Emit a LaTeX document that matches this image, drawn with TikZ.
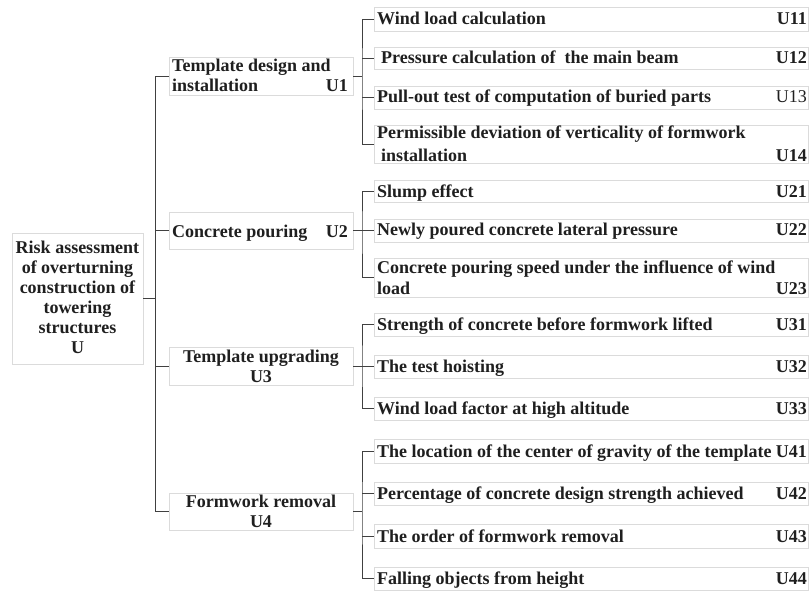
\documentclass[tikz,border=0pt]{standalone}
\usepackage{fontspec}
\setmainfont{Liberation Serif}
\begin{document}
\begin{tikzpicture}[x=1pt,y=-1pt,
  boxline/.style={draw=black!14, line width=0.6pt},
  rootbox/.style={boxline, minimum width=131pt, minimum height=131pt, inner sep=0pt},
  mainbox/.style={boxline, minimum width=184pt, inner sep=0pt},
  leafbox/.style={boxline, minimum width=434pt, inner sep=0pt},
  ltxt/.style={anchor=base west, inner sep=0pt, font=\fontsize{18}{22}\selectfont\bfseries, text=black!88},
  ctxt/.style={anchor=base east, inner sep=0pt, font=\fontsize{18}{22}\selectfont\bfseries, text=black!88},
  mtxt/.style={inner sep=0pt, font=\fontsize{18}{20}\selectfont\bfseries, text=black!88},
  conn/.style={draw=black!75, line width=0.9pt}
]
\useasboundingbox (0,0) rectangle (809,591);

% root
\node[rootbox] (root) at (77.5,298.5) {};
\foreach \t [count=\i] in {Risk assessment,of overturning,construction of,towering,structures,U}
  \node[mtxt, anchor=base] (r\i) at (77.5,233+20*\i) {\t};

% main boxes
\node[mainbox, minimum height=38pt] (b1) at (261,76) {};
\node[mtxt, anchor=base west] (b1t1) at (172,72) {Template design and};
\node[mtxt, anchor=base west] (b1t2) at (172,92) {installation};
\node[mtxt, anchor=base east] (b1c) at (348,92) {U1};

\node[mainbox, minimum height=37pt] (b2) at (261,230.5) {};
\node[mtxt, anchor=base west] (b2t) at (172,237) {Concrete pouring};
\node[mtxt, anchor=base east] (b2c) at (348,237) {U2};

\node[mainbox, minimum height=38pt] (b3) at (261,366) {};
\node[mtxt, anchor=base] (b3t1) at (261,362) {Template upgrading};
\node[mtxt, anchor=base] (b3t2) at (261,382) {U3};

\node[mainbox, minimum height=37pt] (b4) at (261,511.5) {};
\node[mtxt, anchor=base] (b4t1) at (261,507) {Formwork removal};
\node[mtxt, anchor=base] (b4t2) at (261,527) {U4};

% leaves U1
\node[leafbox, minimum height=24pt] (l11) at (591,19) {};
\node[ltxt] (t11) at (377,25) {Wind load calculation};
\node[ctxt] (c11) at (807,25) {U11};
\node[leafbox, minimum height=22pt] (l12) at (591,58) {};
\node[ltxt] (t12) at (381,64) {Pressure calculation of\ \ the main beam};
\node[ctxt] (c12) at (807,64) {U12};
\node[leafbox, minimum height=23pt] (l13) at (591,97.5) {};
\node[ltxt] (t13) at (377,103) {Pull-out test of computation of buried parts};
\node[ctxt, font=\fontsize{18}{22}\selectfont] (c13) at (807,103) {U13};
\node[leafbox, minimum height=38pt] (l14) at (591,144) {};
\node[ltxt] (t14a) at (377,139) {Permissible deviation of verticality of formwork};
\node[ltxt] (t14b) at (381,161) {installation};
\node[ctxt] (c14) at (807,161) {U14};

% leaves U2
\node[leafbox, minimum height=22pt] (l21) at (591,191) {};
\node[ltxt] (t21) at (377,197) {Slump effect};
\node[ctxt] (c21) at (807,197) {U21};
\node[leafbox, minimum height=23pt] (l22) at (591,230.5) {};
\node[ltxt] (t22) at (377,236) {Newly poured concrete lateral pressure};
\node[ctxt] (c22) at (807,236) {U22};
\node[leafbox, minimum height=39pt] (l23) at (591,277.5) {};
\node[ltxt] (t23a) at (377,273) {Concrete pouring speed under the influence of wind};
\node[ltxt] (t23b) at (377,294) {load};
\node[ctxt] (c23) at (807,294) {U23};

% leaves U3
\node[leafbox, minimum height=23pt] (l31) at (591,324.5) {};
\node[ltxt] (t31) at (377,330) {Strength of concrete before formwork lifted};
\node[ctxt] (c31) at (807,330) {U31};
\node[leafbox, minimum height=23pt] (l32) at (591,366.5) {};
\node[ltxt] (t32) at (377,372) {The test hoisting};
\node[ctxt] (c32) at (807,372) {U32};
\node[leafbox, minimum height=23pt] (l33) at (591,408.5) {};
\node[ltxt] (t33) at (377,414) {Wind load factor at high altitude};
\node[ctxt] (c33) at (807,414) {U33};

% leaves U4
\node[leafbox, minimum height=24pt] (l41) at (591,451) {};
\node[ltxt] (t41) at (377,457) {The location of the center of gravity of the template};
\node[ctxt] (c41) at (807,457) {U41};
\node[leafbox, minimum height=23pt] (l42) at (591,493.5) {};
\node[ltxt] (t42) at (377,499) {Percentage of concrete design strength achieved};
\node[ctxt] (c42) at (807,499) {U42};
\node[leafbox, minimum height=24pt] (l43) at (591,536) {};
\node[ltxt] (t43) at (377,542) {The order of formwork removal};
\node[ctxt] (c43) at (807,542) {U43};
\node[leafbox, minimum height=23pt] (l44) at (591,578.5) {};
\node[ltxt] (t44) at (377,584) {Falling objects from height};
\node[ctxt] (c44) at (807,584) {U44};

% connectors
\coordinate (tr) at (155.5,298.5);
\draw[conn] (root.east) -- (tr);
\draw[conn] (b1.west) -| (tr) |- (b4.west);
\draw[conn] (b2.west) -- (b2.west -| tr);
\draw[conn] (b3.west) -- (b3.west -| tr);

\coordinate (j1) at (362,76);
\draw[conn] (b1.east) -- (j1);
\draw[conn] (l11.west) -| (j1) |- (l14.west);
\draw[conn] (l12.west) -- (l12.west -| j1);
\draw[conn] (l13.west) -- (l13.west -| j1);

\coordinate (j2) at (362,230.5);
\draw[conn] (b2.east) -- (j2);
\draw[conn] (l21.west) -| (j2) |- (l23.west);
\draw[conn] (l22.west) -- (l22.west -| j2);

\coordinate (j3) at (362,366);
\draw[conn] (b3.east) -- (j3);
\draw[conn] (l31.west) -| (j3) |- (l33.west);
\draw[conn] (l32.west) -- (l32.west -| j3);

\coordinate (j4) at (362,511.5);
\draw[conn] (b4.east) -- (j4);
\draw[conn] (l41.west) -| (j4) |- (l44.west);
\draw[conn] (l42.west) -- (l42.west -| j4);
\draw[conn] (l43.west) -- (l43.west -| j4);
\end{tikzpicture}
\end{document}
